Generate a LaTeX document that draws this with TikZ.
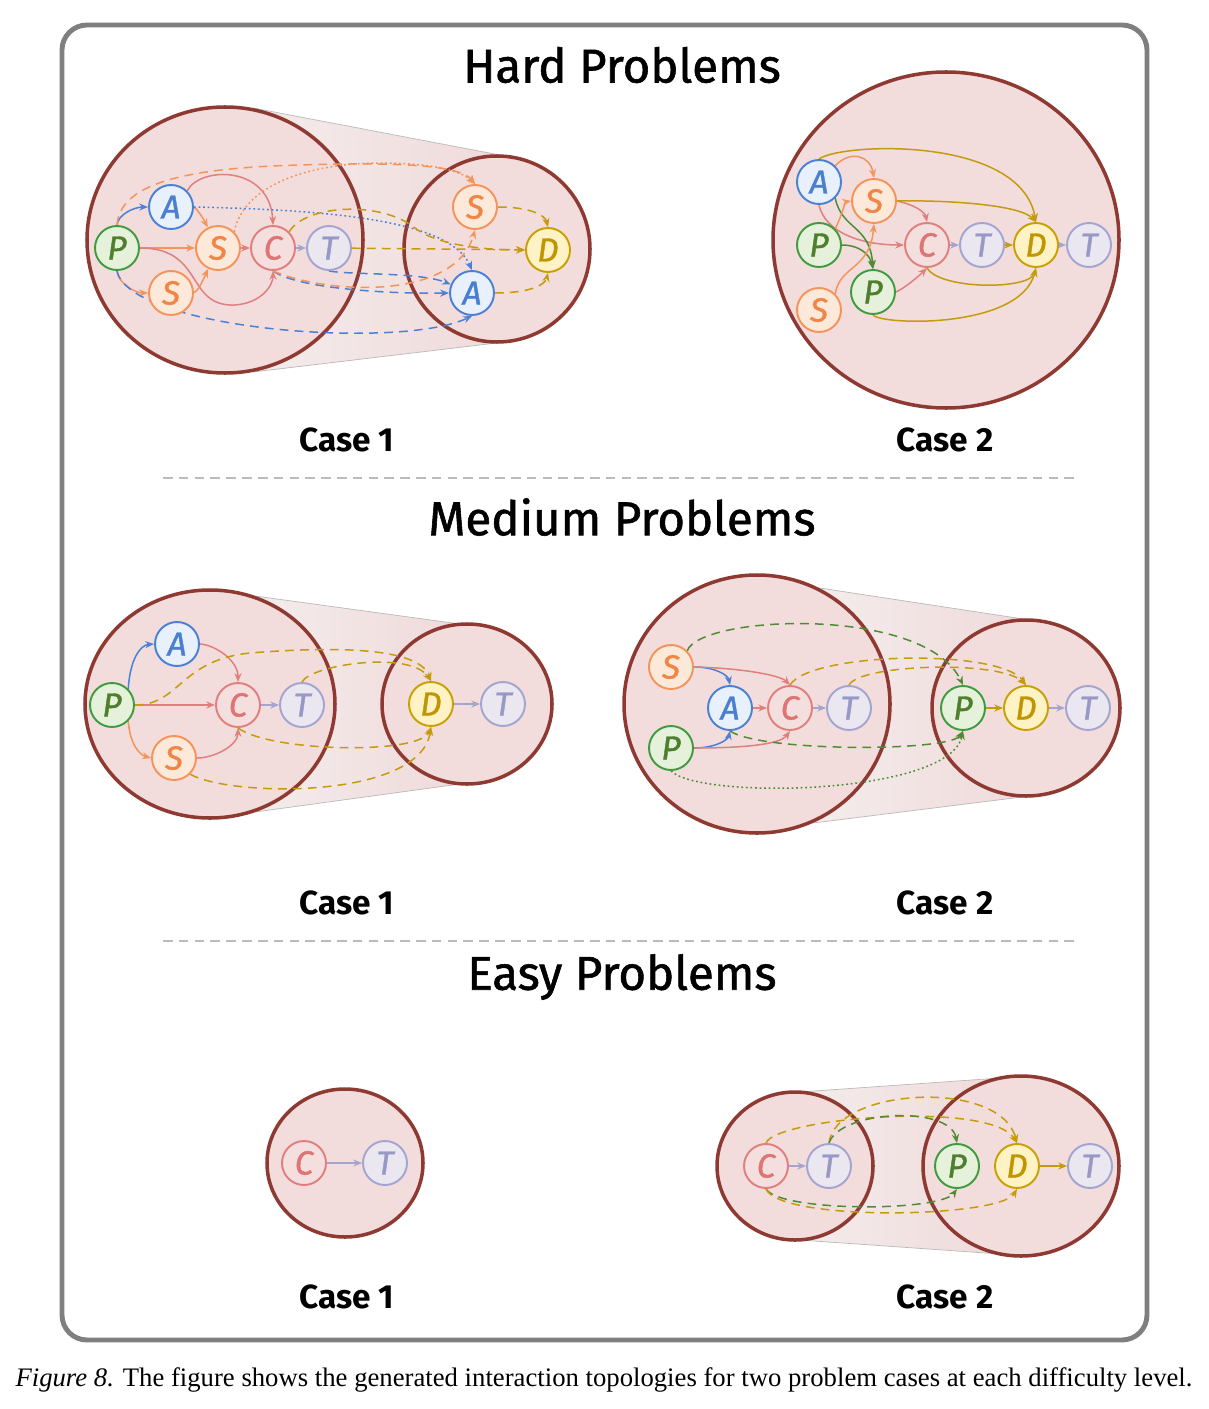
\documentclass[tikz,border=0pt]{standalone}
\usepackage{fontspec}
\setmainfont{Liberation Serif}
\newfontfamily\comic{Fira Sans}
\newfontfamily\comicT[FakeBold=1.2]{Fira Sans}
\usetikzlibrary{arrows.meta,shapes.geometric}
\pgfdeclarelayer{bg}
\pgfdeclarelayer{mid}
\pgfsetlayers{bg,mid,main}
\definecolor{cB}{HTML}{8E3A32}
\definecolor{fB}{HTML}{F2DDDC}
\definecolor{cP}{HTML}{3E9B3E}
\definecolor{fP}{HTML}{E6F1DC}
\definecolor{tP}{HTML}{4E7F2C}
\definecolor{cA}{HTML}{4A80D6}
\definecolor{fA}{HTML}{E8F1FB}
\definecolor{tA}{HTML}{4A7FD0}
\definecolor{cS}{HTML}{F4935A}
\definecolor{fS}{HTML}{FDE9DA}
\definecolor{tS}{HTML}{F08646}
\definecolor{cC}{HTML}{E17E7E}
\definecolor{fC}{HTML}{F5DEDE}
\definecolor{tC}{HTML}{DE7474}
\definecolor{cT}{HTML}{A4A4D0}
\definecolor{fT}{HTML}{EAE7F1}
\definecolor{tT}{HTML}{9898C6}
\definecolor{cD}{HTML}{C9A003}
\definecolor{fD}{HTML}{FFF3C6}
\definecolor{tD}{HTML}{C09600}
\definecolor{eGold}{HTML}{C49B0A}
\definecolor{eGreen}{HTML}{4E8C33}
\definecolor{frameC}{HTML}{7F7F7F}
\definecolor{sepC}{HTML}{BBBBBB}
\definecolor{fl}{HTML}{F4ECEC}
\definecolor{fm}{HTML}{FAF6F6}
\definecolor{fr}{HTML}{F0DADA}
\begin{document}
\begin{tikzpicture}[x=0.02cm,y=-0.02cm,
  ag/.style={circle,minimum size=0.88cm,inner sep=0pt,line width=1.1pt,font=\comicT\itshape\fontsize{19}{19}\selectfont},
  nP/.style={ag,draw=cP,fill=fP,text=tP},
  nA/.style={ag,draw=cA,fill=fA,text=tA},
  nS/.style={ag,draw=cS,fill=fS,text=tS},
  nC/.style={ag,draw=cC,fill=fC,text=tC},
  nT/.style={ag,draw=cT,fill=fT,text=tT},
  nD/.style={ag,draw=cD,fill=fD,text=tD},
  arr/.style={line width=0.85pt,-{Stealth[length=5pt,width=4pt]}},
  dsh/.style={dash pattern=on 5pt off 3.5pt},
  dtt/.style={dash pattern=on 1pt off 1.6pt},
  big/.style={draw=cB,fill=fB,line width=2pt},
  fun/.style={left color=fl,middle color=fm,right color=fr},
  funline/.style={draw=gray!55,line width=0.4pt},
  ttl/.style={font=\comicT\fontsize{27}{30}\selectfont},
  cas/.style={font=\comic\bfseries\fontsize{19}{21}\selectfont}]
\useasboundingbox (0,0) rectangle (1209,1409);
\draw[frameC,line width=2.8pt,rounded corners=0.5cm] (62,25) rectangle (1147,1340);
\draw[sepC,line width=1.1pt,dash pattern=on 5.5pt off 3.5pt] (163,478) -- (1077,478);
\draw[sepC,line width=1.1pt,dash pattern=on 5.5pt off 3.5pt] (163,941) -- (1077,941);
\node[ttl] (th) at (622,65) {Hard Problems};
\node[ttl] (tm) at (622,517) {Medium Problems};
\node[ttl] (te) at (622,977) {Easy Problems};
\node[cas] (h1) at (347,440) {Case 1};
\node[cas] (h2) at (945,440) {Case 2};
\node[cas] (m1) at (347,903) {Case 1};
\node[cas] (m2) at (945,903) {Case 2};
\node[cas] (e1) at (347,1297) {Case 1};
\node[cas] (e2) at (945,1297) {Case 2};
\node[font=\fontsize{15.2}{17}\selectfont] (cap) at (604,1380) {\textit{Figure 8.} The figure shows the generated interaction topologies for two problem cases at each difficulty level.};

% ---------- backgrounds ----------
\begin{pgfonlayer}{bg}
\shade[fun] (253,108) -- (505,156) -- (505,342) -- (253,372) -- cycle;
\draw[funline] (253,108) -- (505,156) (253,372) -- (505,342);
\draw[big] (225,240) ellipse [x radius=138, y radius=133];
\draw[big] (497,249) ellipse [x radius=93, y radius=93];
\draw[big] (946,240) ellipse [x radius=173, y radius=168];
\shade[fun] (255,596) -- (460,624) -- (460,784) -- (255,812) -- cycle;
\draw[funline] (255,596) -- (460,624) (255,812) -- (460,784);
\draw[big] (210,704) ellipse [x radius=125, y radius=114];
\draw[big] (467,704) ellipse [x radius=85, y radius=80];
\shade[fun] (813,587) -- (1030,620) -- (1030,796) -- (813,823) -- cycle;
\draw[funline] (813,587) -- (1030,620) (813,823) -- (1030,796);
\draw[big] (757,704) ellipse [x radius=133, y radius=129];
\draw[big] (1026,708) ellipse [x radius=94, y radius=88];
\draw[big] (345,1163) ellipse [x radius=78, y radius=74];
\shade[fun] (800,1092) -- (1000,1078) -- (1000,1254) -- (800,1240) -- cycle;
\draw[funline] (800,1092) -- (1000,1078) (800,1240) -- (1000,1254);
\draw[big] (795,1166) ellipse [x radius=78, y radius=74];
\draw[big] (1021,1166) ellipse [x radius=98, y radius=90];
\end{pgfonlayer}

% ---------- Hard case 1 ----------
\node[nP] (P1) at (117,248) {P};
\node[nA] (A1) at (171,207) {A};
\node[nS] (S1) at (218,248) {S};
\node[nS] (Sb) at (171,293) {S};
\node[nC] (C1) at (273,248) {C};
\node[nT] (T1) at (329,248) {T};
\node[nS] (Sr) at (475,207) {S};
\node[nD] (D1) at (548,250) {D};
\node[nA] (Ar) at (472,293) {A};
\begin{pgfonlayer}{mid}
\draw[arr,cA] (P1.north) .. controls (118,214) and (135,207) .. (A1);
\draw[arr,cS] (P1.south) .. controls (118,283) and (135,293) .. (Sb);
\draw[arr,cS] (P1) -- (S1);
\draw[arr,cC] (P1.east) .. controls (205,248) and (185,307) .. (235,305) .. controls (262,303) and (273,285) .. (C1.south);
\draw[arr,cS] (A1.east) .. controls (198,210) and (203,218) .. (S1);
\draw[arr,cC] (A1.north east) .. controls (200,166) and (270,165) .. (C1.north);
\draw[arr,cS] (Sb) .. controls (198,292) and (203,280) .. (S1);
\draw[arr,cC] (S1) -- (C1);
\draw[arr,cT] (C1) -- (T1);
\draw[arr,cS,dsh] (P1.north) .. controls (120,185) and (180,168) .. (300,165) .. controls (400,162) and (460,165) .. (Sr.north);
\draw[arr,cS,dtt] (S1.north east) .. controls (245,180) and (320,163) .. (380,163) .. controls (430,163) and (460,170) .. (Sr.north);
\draw[arr,cA,dtt] (A1.east) .. controls (330,210) and (450,220) .. (Ar.north);
\draw[arr,eGold,dsh] (T1) -- (D1);
\draw[arr,eGold,dsh] (C1.north east) .. controls (305,205) and (380,200) .. (415,228) .. controls (435,244) and (480,250) .. (D1);
\draw[arr,cA,dsh] (T1.south) .. controls (350,275) and (420,272) .. (Ar);
\draw[arr,cA,dsh] (C1.south) .. controls (300,290) and (400,294) .. (Ar.west);
\draw[arr,cA,dsh] (P1.south) .. controls (130,330) and (400,350) .. (Ar.south);
\draw[arr,cS,dsh] (C1.south) .. controls (330,295) and (455,300) .. (Sr.south);
\draw[arr,eGold,dsh] (Sr.east) .. controls (530,207) and (545,215) .. (D1.north);
\draw[arr,eGold,dsh] (Ar.east) .. controls (530,293) and (545,285) .. (D1.south);
\end{pgfonlayer}

% ---------- Hard case 2 ----------
\node[nA] (A2) at (819,182) {A};
\node[nS] (S2) at (874,201) {S};
\node[nP] (P2a) at (819,245) {P};
\node[nC] (C2) at (927,245) {C};
\node[nT] (T2a) at (982,245) {T};
\node[nD] (D2) at (1036,245) {D};
\node[nT] (T2b) at (1089,245) {T};
\node[nP] (P2b) at (873,292) {P};
\node[nS] (S2b) at (819,310) {S};
\begin{pgfonlayer}{mid}
\draw[arr,cS] (A2.north east) .. controls (850,150) and (870,155) .. (S2.north);
\draw[arr,cC] (A2.south) .. controls (825,232) and (860,245) .. (C2.west);
\draw[arr,eGreen] (A2.south east) .. controls (842,230) and (870,225) .. (P2b.north);
\draw[arr,eGold] (A2.north) .. controls (840,143) and (1020,135) .. (D2.north);
\draw[arr,cC] (S2.east) .. controls (915,205) and (925,212) .. (C2.north);
\draw[arr,eGold] (S2.east) .. controls (950,200) and (1020,205) .. (D2.north);
\draw[arr,cS] (P2a.north east) .. controls (842,215) and (845,202) .. (S2.west);
\draw[arr,eGreen] (P2a.east) .. controls (860,245) and (870,255) .. (P2b.north);
\draw[arr,cS] (S2b.north east) .. controls (840,265) and (870,270) .. (S2.south);
\draw[arr,cC] (P2b.east) .. controls (905,288) and (920,275) .. (C2.south);
\draw[arr,eGold] (P2b.south) .. controls (880,325) and (1020,330) .. (D2.south);
\draw[arr,eGold] (C2.south) .. controls (940,290) and (1030,290) .. (D2.south);
\draw[arr,cT] (C2) -- (T2a);
\draw[arr,eGold] (T2a) -- (D2);
\draw[arr,cT] (D2) -- (T2b);
\end{pgfonlayer}

% ---------- Medium case 1 ----------
\node[nP] (P3) at (112,705) {P};
\node[nA] (A3) at (177,644) {A};
\node[nC] (C3) at (238,705) {C};
\node[nT] (T3) at (302,705) {T};
\node[nS] (S3) at (174,758) {S};
\node[nD] (D3) at (431,704) {D};
\node[nT] (T3b) at (503,704) {T};
\begin{pgfonlayer}{mid}
\draw[arr,cA] (P3.north east) .. controls (130,660) and (140,645) .. (A3.west);
\draw[arr,cC] (P3) -- (C3);
\draw[arr,cS] (P3.south east) .. controls (130,745) and (140,755) .. (S3.west);
\draw[arr,cC] (A3.east) .. controls (215,645) and (238,660) .. (C3.north);
\draw[arr,cC] (S3.east) .. controls (215,758) and (238,745) .. (C3.south);
\draw[arr,cT] (C3) -- (T3);
\draw[arr,eGold,dsh] (P3.east) .. controls (180,705) and (180,660) .. (250,653) .. controls (350,645) and (420,650) .. (D3.north);
\draw[arr,eGold,dsh] (T3.north) .. controls (310,665) and (410,650) .. (D3.north);
\draw[arr,eGold,dsh] (C3.south) .. controls (270,752) and (420,755) .. (D3.south);
\draw[arr,eGold,dsh] (S3.south east) .. controls (230,797) and (420,800) .. (D3.south);
\draw[arr,cT] (D3) -- (T3b);
\end{pgfonlayer}

% ---------- Medium case 2 ----------
\node[nS] (S4) at (671,667) {S};
\node[nA] (A4) at (730,708) {A};
\node[nC] (C4) at (790,708) {C};
\node[nT] (T4) at (849,708) {T};
\node[nP] (P4) at (671,748) {P};
\node[nP] (P4b) at (963,708) {P};
\node[nD] (D4) at (1026,708) {D};
\node[nT] (T4b) at (1088,708) {T};
\begin{pgfonlayer}{mid}
\draw[arr,cA] (S4.east) .. controls (715,667) and (728,675) .. (A4.north);
\draw[arr,cC] (S4.east) .. controls (740,668) and (780,675) .. (C4.north);
\draw[arr,cA] (P4.east) .. controls (715,748) and (728,740) .. (A4.south);
\draw[arr,cC] (P4.east) .. controls (740,748) and (780,745) .. (C4.south);
\draw[arr,cC] (A4) -- (C4);
\draw[arr,cT] (C4) -- (T4);
\draw[arr,eGreen,dsh] (S4.north east) .. controls (700,615) and (925,605) .. (P4b.north);
\draw[arr,eGold,dsh] (C4.north) .. controls (810,652) and (1000,648) .. (D4.north);
\draw[arr,eGold,dsh] (T4.north) .. controls (860,664) and (1000,660) .. (D4.north);
\draw[arr,eGreen,dsh] (A4.south) .. controls (760,752) and (950,752) .. (P4b.south);
\draw[arr,eGreen,dtt] (P4.south) .. controls (700,800) and (950,795) .. (P4b.south);
\draw[arr,eGold] (P4b) -- (D4);
\draw[arr,cT] (D4) -- (T4b);
\end{pgfonlayer}

% ---------- Easy case 1 ----------
\node[nC] (C5) at (304,1163) {C};
\node[nT] (T5) at (385,1163) {T};
\begin{pgfonlayer}{mid}
\draw[arr,cT] (C5) -- (T5);
\end{pgfonlayer}

% ---------- Easy case 2 ----------
\node[nC] (C6) at (766,1166) {C};
\node[nT] (T6) at (829,1166) {T};
\node[nP] (P6) at (957,1166) {P};
\node[nD] (D6) at (1017,1166) {D};
\node[nT] (T6b) at (1090,1166) {T};
\begin{pgfonlayer}{mid}
\draw[arr,cT] (C6) -- (T6);
\draw[arr,eGold,dsh] (C6.north) .. controls (775,1118) and (990,1100) .. (D6.north);
\draw[arr,eGold,dsh] (T6.north) .. controls (835,1088) and (1000,1078) .. (D6.north);
\draw[arr,eGreen,dsh] (T6.north) .. controls (840,1110) and (950,1105) .. (P6.north);
\draw[arr,eGreen,dsh] (C6.south) .. controls (780,1212) and (940,1212) .. (P6.south);
\draw[arr,eGold,dsh] (C6.south) .. controls (780,1222) and (1000,1218) .. (D6.south);
\draw[arr,eGold] (D6) -- (T6b);
\end{pgfonlayer}
\end{tikzpicture}
\end{document}
